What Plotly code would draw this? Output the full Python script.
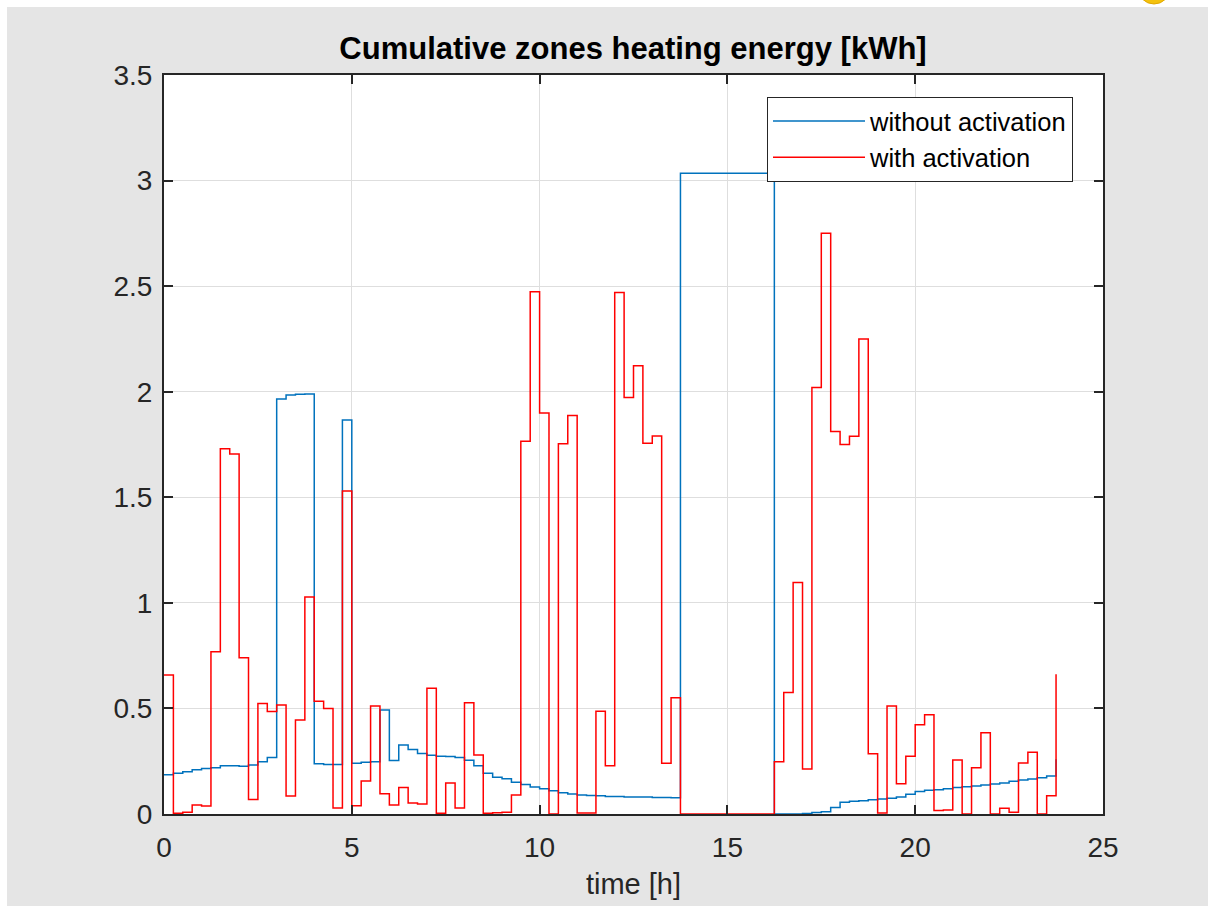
import plotly.graph_objects as go

# 15-minute time steps over one day (hours)
time_h = [k * 0.25 for k in range(96)]

without_activation = [
    0.186, 0.193, 0.200, 0.210, 0.215, 0.219, 0.229, 0.229, 0.226, 0.232,
    0.248, 0.267, 1.966, 1.985, 1.988, 1.989, 0.238, 0.235, 0.234, 1.866,
    0.240, 0.245, 0.248, 0.493, 0.253, 0.327, 0.306, 0.286, 0.278, 0.273,
    0.272, 0.267, 0.254, 0.229, 0.193, 0.174, 0.167, 0.150, 0.140, 0.128,
    0.120, 0.110, 0.101, 0.095, 0.090, 0.088, 0.086, 0.083, 0.083, 0.081,
    0.081, 0.080, 0.078, 0.078, 0.077, 3.035, 3.035, 3.035, 3.035, 3.035,
    3.035, 3.035, 3.035, 3.035, 3.035, 0.000, 0.000, 0.000, 0.002, 0.007,
    0.011, 0.031, 0.056, 0.060, 0.063, 0.067, 0.071, 0.075, 0.080, 0.093,
    0.107, 0.112, 0.115, 0.120, 0.125, 0.129, 0.133, 0.137, 0.142, 0.147,
    0.155, 0.161, 0.166, 0.172, 0.180, 0.259,
]

with_activation = [
    0.658, 0.003, 0.008, 0.043, 0.038, 0.769, 1.730, 1.705, 0.740, 0.069,
    0.523, 0.485, 0.516, 0.085, 0.445, 1.028, 0.534, 0.500, 0.028, 1.530,
    0.039, 0.156, 0.512, 0.096, 0.043, 0.125, 0.052, 0.047, 0.595, 0.003,
    0.147, 0.028, 0.527, 0.279, 0.003, 0.006, 0.008, 0.090, 1.765, 2.473,
    1.899, 0.000, 1.754, 1.887, 0.005, 0.005, 0.487, 0.228, 2.470, 1.973,
    2.123, 1.756, 1.790, 0.240, 0.551, 0.000, 0.000, 0.000, 0.000, 0.000,
    0.000, 0.000, 0.000, 0.000, 0.000, 0.248, 0.575, 1.096, 0.213, 2.020,
    2.750, 1.812, 1.750, 1.789, 2.250, 0.285, 0.005, 0.511, 0.143, 0.273,
    0.423, 0.470, 0.016, 0.019, 0.256, 0.000, 0.219, 0.385, 0.000, 0.027,
    0.008, 0.242, 0.292, 0.000, 0.087, 0.662,
]

x_ticks = [0, 5, 10, 15, 20, 25]
y_ticks = [0, 0.5, 1, 1.5, 2, 2.5, 3, 3.5]
y_tick_text = ["0", "0.5", "1", "1.5", "2", "2.5", "3", "3.5"]

FONT = "Liberation Sans, Arial, Helvetica, sans-serif"
DARK = "#262626"
FIG_BG = "#e5e5e5"

W, H = 1208, 906
L, R, T, B = 164, 105, 75, 92
PW, PH = W - L - R, H - T - B


def px(x):
    return (x - L) / PW


def py(y):
    return (H - B - y) / PH


fig = go.Figure()
fig.add_trace(go.Scatter(
    x=time_h, y=without_activation, mode="lines", line_shape="hv",
    line=dict(color="#0072BD", width=1.5), name="without activation",
))
fig.add_trace(go.Scatter(
    x=time_h, y=with_activation, mode="lines", line_shape="hv",
    line=dict(color="#FF0000", width=1.5), name="with activation",
))

axis_common = dict(
    showline=True, linecolor=DARK, linewidth=2, mirror="ticks",
    ticks="inside", ticklen=9, tickwidth=2, tickcolor=DARK,
    showgrid=True, gridcolor="#dedede", gridwidth=1.3,
    zeroline=False, automargin=False,
    tickfont=dict(family=FONT, size=28, color=DARK),
)

fig.update_layout(
    width=W, height=H,
    margin=dict(l=L, r=R, t=T, b=B),
    paper_bgcolor=FIG_BG, plot_bgcolor="white",
    title=dict(
        text="<b>Cumulative zones heating energy [kWh]</b>",
        font=dict(family=FONT, size=31, color="black"),
        x=633 / W, xanchor="center", y=1 - 48 / H, yanchor="middle",
    ),
    xaxis=dict(range=[0, 25], tickvals=x_ticks, ticklabelstandoff=7,
               title=dict(text="time [h]", font=dict(family=FONT, size=29, color=DARK),
                          standoff=12),
               **axis_common),
    yaxis=dict(range=[0, 3.5], tickvals=y_ticks, ticktext=y_tick_text,
               ticklabelstandoff=4, **axis_common),
    showlegend=True,
    legend=dict(
        x=px(767), y=py(97), xanchor="left", yanchor="top",
        bgcolor="white", bordercolor=DARK, borderwidth=1,
        font=dict(family=FONT, size=25.5, color="black"),
        itemwidth=92, tracegroupgap=0,
    ),
    shapes=[
        dict(type="rect", xref="paper", yref="paper",
             x0=px(0), x1=px(7), y0=py(H), y1=py(0),
             fillcolor="white", line=dict(width=0), layer="below"),
        dict(type="rect", xref="paper", yref="paper",
             x0=px(0), x1=px(W), y0=py(7), y1=py(0),
             fillcolor="white", line=dict(width=0), layer="below"),
        dict(type="circle", xref="paper", yref="paper",
             x0=px(1138), x1=px(1170), y0=py(4), y1=py(-28),
             fillcolor="#f4c20d", line=dict(color="#e0a800", width=1)),
    ],
)

fig.write_html("out.html")
